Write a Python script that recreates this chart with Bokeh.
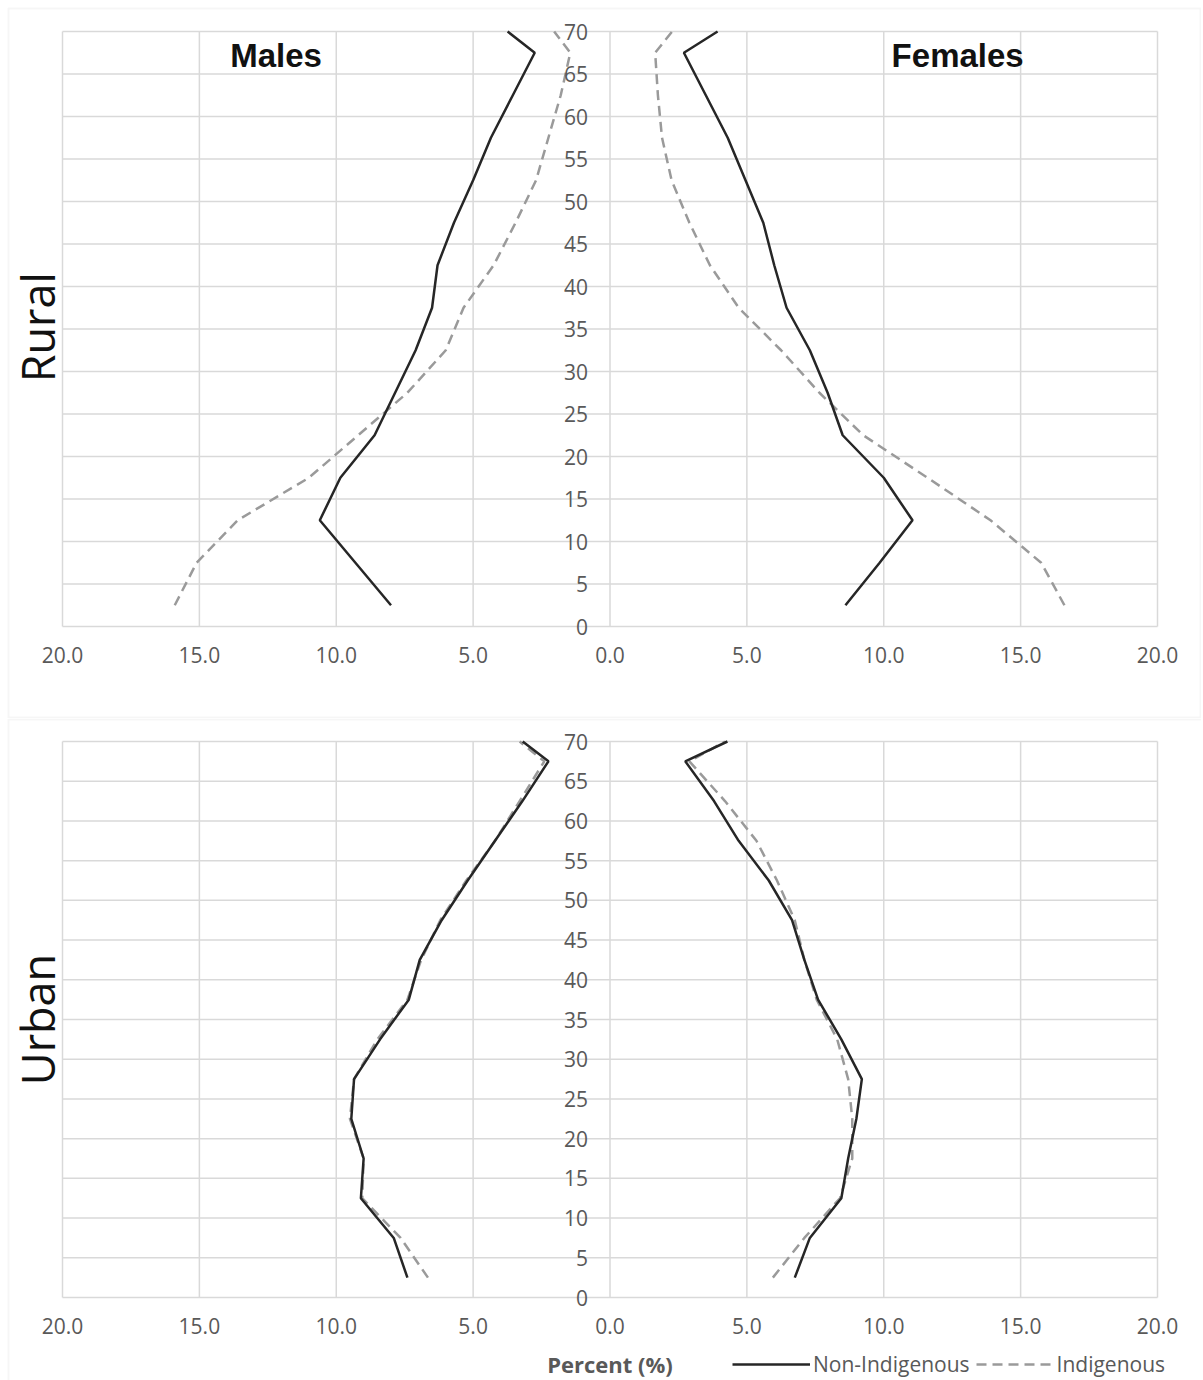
from bokeh.plotting import figure
from bokeh.layouts import column
from bokeh.models import (Label, Legend, LegendItem, FixedTicker, BoxAnnotation,
                          ColumnDataSource, Range1d)
from bokeh.embed import file_html
from bokeh.resources import INLINE

# ---- data -------------------------------------------------------------
ages = [2.5, 7.5, 12.5, 17.5, 22.5, 27.5, 32.5, 37.5, 42.5, 47.5,
        52.5, 57.5, 62.5, 67.5, 70]
x_ticks = [-20, -15, -10, -5, 0, 5, 10, 15, 20]
x_tick_labels = ["20.0", "15.0", "10.0", "5.0", "0.0", "5.0", "10.0", "15.0", "20.0"]
y_ticks = [0, 5, 10, 15, 20, 25, 30, 35, 40, 45, 50, 55, 60, 65, 70]

rural_male_non = [8.0, 9.3, 10.6, 9.85, 8.6, 7.85, 7.1, 6.5, 6.3, 5.7, 5.0, 4.35, 3.55, 2.75, 3.74]
rural_male_ind = [15.9, 15.1, 13.6, 11.0, 9.2, 7.4, 6.0, 5.35, 4.25, 3.45, 2.7, 2.25, 1.8, 1.45, 2.04]
rural_fem_non = [8.6, 9.85, 11.05, 10.0, 8.5, 7.95, 7.3, 6.45, 6.0, 5.6, 4.95, 4.3, 3.5, 2.7, 3.93]
rural_fem_ind = [16.6, 15.75, 13.9, 11.6, 9.25, 7.65, 6.25, 4.7, 3.65, 2.9, 2.25, 1.9, 1.75, 1.65, 2.27]

urban_male_non = [7.4, 7.9, 9.1, 9.0, 9.45, 9.35, 8.4, 7.35, 6.95, 6.15, 5.2, 4.2, 3.2, 2.25, 3.19]
urban_male_ind = [6.65, 7.65, 9.05, 9.0, 9.5, 9.35, 8.5, 7.4, 6.9, 6.2, 5.25, 4.2, 3.3, 2.4, 3.3]
urban_fem_non = [6.75, 7.3, 8.45, 8.7, 9.0, 9.2, 8.45, 7.6, 7.1, 6.65, 5.8, 4.7, 3.8, 2.75, 4.29]
urban_fem_ind = [5.95, 7.1, 8.4, 8.85, 8.85, 8.7, 8.3, 7.55, 7.1, 6.75, 6.1, 5.35, 4.2, 2.9, 4.2]

# ---- styling / layout -------------------------------------------------
GRID = "#d9d9d9"
TEXT = "#595959"
SOLID = "#262626"
DASH = "#9a9a9a"
DASH_STYLE = "10 6"
FIG_W = 1201
PX_LEFT, PX_RIGHT = 62, 1157          # pixel position of -20 and +20


def make_panel(height, px_top, px_zero, side_text, side_px_y, box_px, m_non, m_ind,
               f_non, f_ind, titles, bottom):
    ux = (PX_RIGHT - PX_LEFT) / 40.0
    uy = (px_zero - px_top) / 70.0

    def fx(px):
        return -20 + (px - PX_LEFT) / ux

    def fy(py):
        return 70 - (py - px_top) / uy

    p = figure(width=FIG_W, height=height, x_range=Range1d(fx(0), fx(FIG_W)),
               y_range=Range1d(fy(height), fy(0)),
               output_backend="svg", toolbar_location=None,
               min_border=0, min_border_left=0, min_border_right=0,
               min_border_top=0, min_border_bottom=0)
    p.background_fill_color = "white"
    p.border_fill_color = "white"
    p.outline_line_color = None
    p.xgrid.visible = False
    p.ygrid.visible = False

    # light panel frame
    bl, bt, br, bb = box_px
    p.add_layout(BoxAnnotation(left=fx(bl), right=fx(br), top=fy(bt), bottom=fy(bb),
                               fill_alpha=0, line_color="#e0e0e0", line_width=2))

    # grid confined to the chart box
    p.segment(x0=x_ticks, y0=[y_ticks[0]] * len(x_ticks), x1=x_ticks,
              y1=[y_ticks[-1]] * len(x_ticks), line_color=GRID, line_width=1.5)
    p.segment(x0=[x_ticks[0]] * len(y_ticks), y0=y_ticks, x1=[x_ticks[-1]] * len(y_ticks),
              y1=y_ticks, line_color=GRID, line_width=1.5)

    # x axis at y = 0
    p.xaxis.fixed_location = 0
    p.xaxis.ticker = FixedTicker(ticks=x_ticks)
    p.xaxis.major_label_overrides = {t: l for t, l in zip(x_ticks, x_tick_labels)}
    p.xaxis.axis_line_color = None
    p.xaxis.major_tick_line_color = None
    p.xaxis.minor_tick_line_color = None
    p.xaxis.major_tick_out = 0
    p.xaxis.major_tick_in = 0
    p.xaxis.major_label_text_font = "Open Sans"
    p.xaxis.major_label_text_font_size = "21px"
    p.xaxis.major_label_text_color = TEXT
    p.xaxis.major_label_standoff = 20

    # y axis drawn at x = 0
    p.yaxis.fixed_location = 0
    p.yaxis.ticker = FixedTicker(ticks=y_ticks)
    p.yaxis.axis_line_color = None
    p.yaxis.major_tick_line_color = None
    p.yaxis.minor_tick_line_color = None
    p.yaxis.major_tick_out = 0
    p.yaxis.major_tick_in = 0
    p.yaxis.major_label_text_font = "Open Sans"
    p.yaxis.major_label_text_font_size = "21px"
    p.yaxis.major_label_text_color = TEXT
    p.yaxis.major_label_standoff = 22

    src = ColumnDataSource(dict(age=ages,
                                m_non=[-v for v in m_non], m_ind=[-v for v in m_ind],
                                f_non=f_non, f_ind=f_ind))
    r_ind = p.line("m_ind", "age", source=src, line_color=DASH, line_width=2.5,
                   line_dash=DASH_STYLE)
    p.line("f_ind", "age", source=src, line_color=DASH, line_width=2.5, line_dash=DASH_STYLE)
    r_non = p.line("m_non", "age", source=src, line_color=SOLID, line_width=2.5)
    p.line("f_non", "age", source=src, line_color=SOLID, line_width=2.5)

    # side label (Rural / Urban)
    p.add_layout(Label(x=36.5, y=height - side_px_y, x_units="screen", y_units="screen",
                       text=side_text, angle=1.5707963, text_align="center",
                       text_baseline="middle", text_font="Open Sans",
                       text_font_size="45px", text_color="#111111"))

    if titles:
        p.add_layout(Label(x=-12.2, y=67.2, text="Males", text_align="center",
                           text_baseline="middle", text_font="Liberation Sans",
                           text_font_style="bold", text_font_size="33px",
                           text_color="#111111"))
        p.add_layout(Label(x=12.7, y=67.2, text="Females", text_align="center",
                           text_baseline="middle", text_font="Liberation Sans",
                           text_font_style="bold", text_font_size="33px",
                           text_color="#111111"))

    if bottom:
        p.add_layout(Label(x=0, y=height - 645, y_units="screen", text="Percent (%)",
                           text_align="center", text_baseline="middle",
                           text_font="Open Sans", text_font_style="bold",
                           text_font_size="22px", text_color=TEXT))
        legend = Legend(items=[LegendItem(label="Non-Indigenous", renderers=[r_non]),
                               LegendItem(label="Indigenous", renderers=[r_ind])],
                        location=(732, 2), orientation="horizontal",
                        glyph_width=78, glyph_height=20, label_standoff=3, spacing=6,
                        padding=0, margin=0, border_line_color=None,
                        background_fill_alpha=0,
                        label_text_font="Open Sans", label_text_font_size="21px",
                        label_text_color=TEXT)
        p.add_layout(legend)
    return p


top = make_panel(718, 31, 626, "Rural", 326.7, (8, 8, 1200, 717),
                 rural_male_non, rural_male_ind, rural_fem_non, rural_fem_ind, True, False)
bot = make_panel(662, 23, 579, "Urban", 301, (8, 1, 1230, 700),
                 urban_male_non, urban_male_ind, urban_fem_non, urban_fem_ind, False, True)

layout = column(top, bot, spacing=0)
open("out.html", "w").write(file_html(layout, INLINE))
